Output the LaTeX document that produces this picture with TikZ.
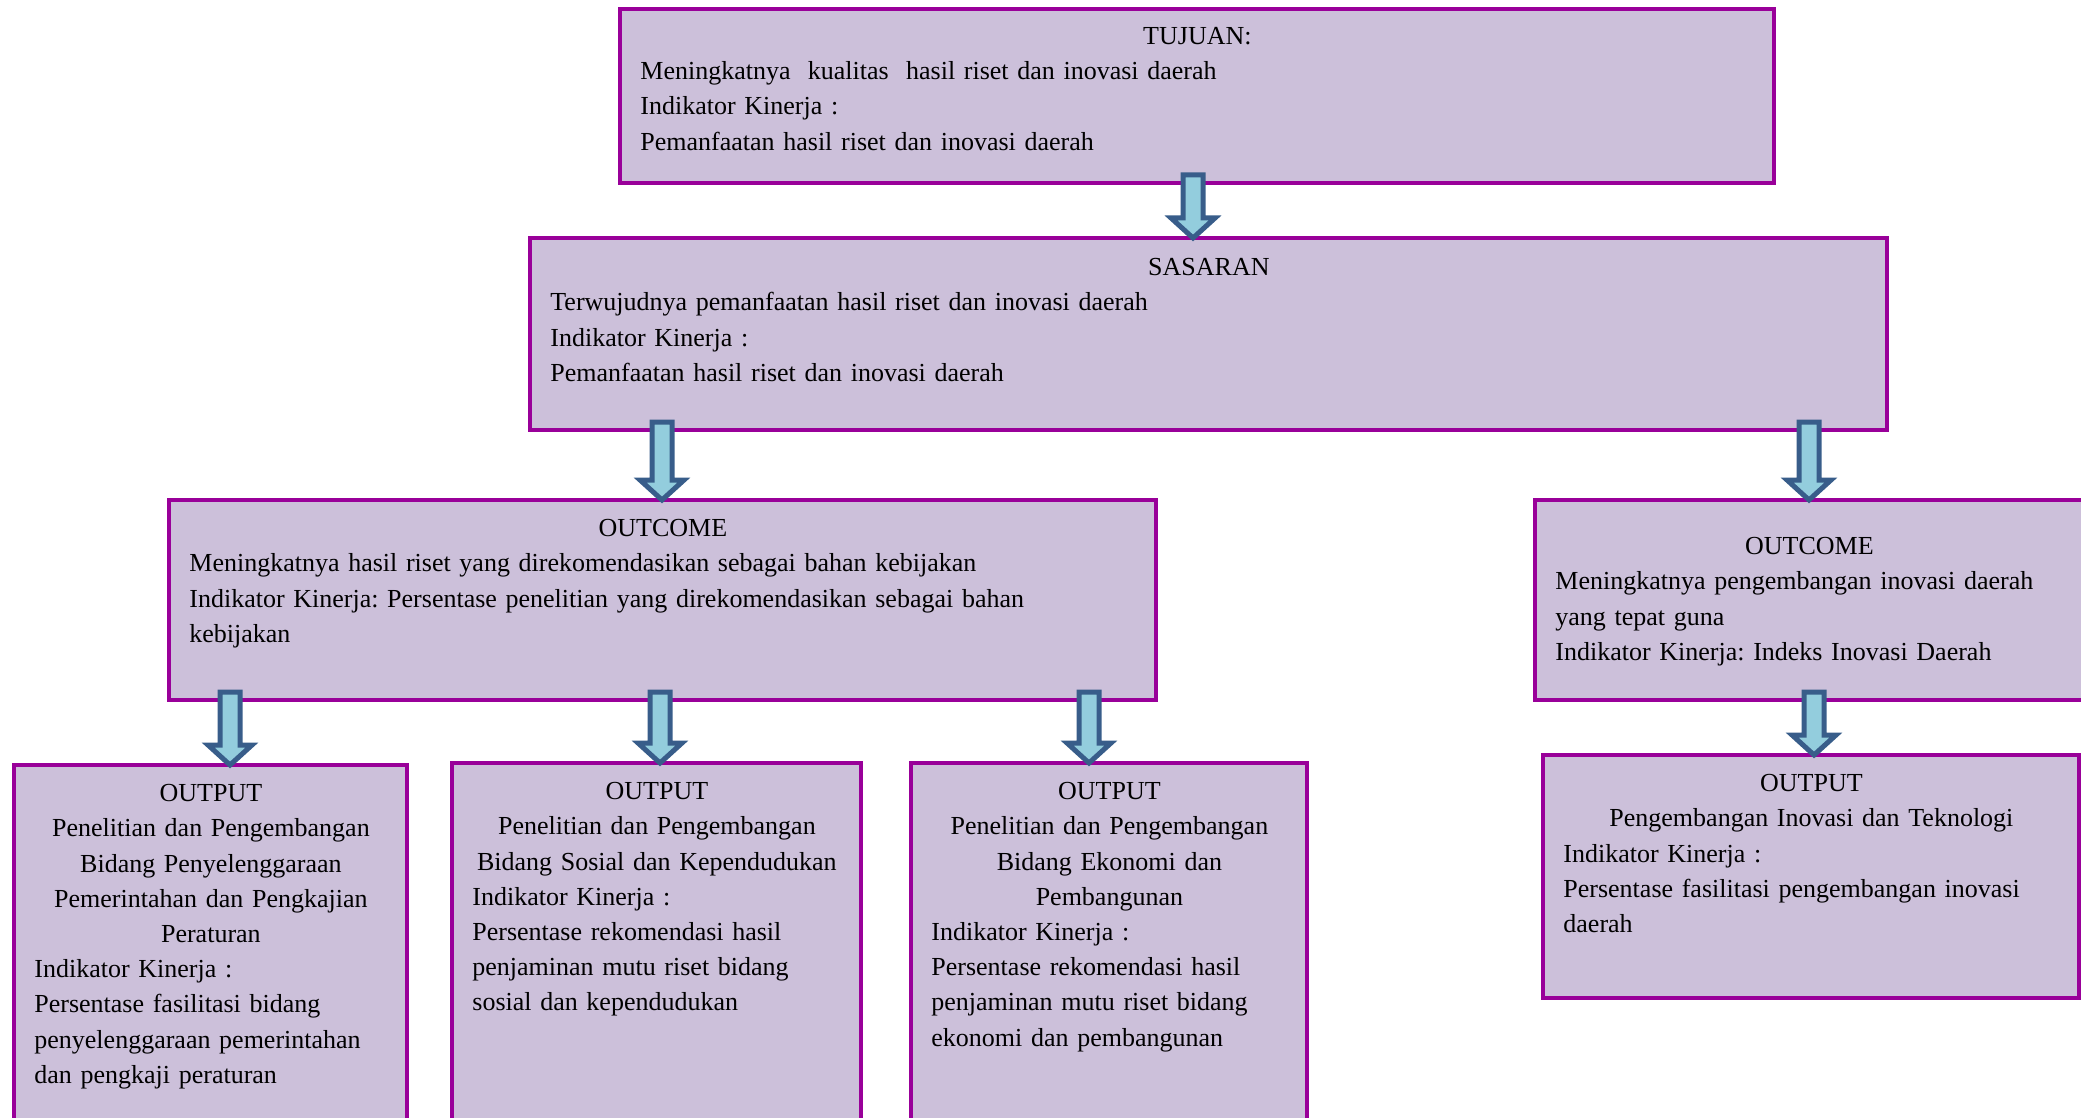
\documentclass[tikz,border=0pt]{standalone}
\usepackage{fontspec}
\setmainfont{Liberation Serif}
\usetikzlibrary{positioning,calc}
\definecolor{boxfill}{HTML}{CCC0DA}
\definecolor{boxline}{HTML}{990099}
\definecolor{arrfill}{HTML}{93CDDD}
\definecolor{arrline}{HTML}{385D8A}
\setlength{\parindent}{0pt}
\frenchspacing
\newcommand{\ctr}[1]{\makebox[\hsize][c]{#1}}
% block arrow: x position (px), upper node, lower node
\newcommand{\blkarr}[3]{%
  \draw[barr] let \p1=(#2.south), \p2=(#3.north) in
    (#1*0.5pt-5pt,\y1+4pt) -- (#1*0.5pt+5pt,\y1+4pt)
    -- (#1*0.5pt+5pt,\y2+10pt) -- (#1*0.5pt+11pt,\y2+10pt)
    -- (#1*0.5pt,\y2) -- (#1*0.5pt-11pt,\y2+10pt)
    -- (#1*0.5pt-5pt,\y2+10pt) -- cycle;}

\begin{document}
\begin{tikzpicture}[x=0.5pt,y=-0.5pt,
    box/.style={rectangle,draw=boxline,fill=boxfill,line width=2.3pt,inner sep=0pt,outer sep=0pt,anchor=north west},
    txt/.style={inner sep=0pt,anchor=north west,align=left,font=\fontsize{13}{17.6}\selectfont},
    barr/.style={draw=arrline,fill=arrfill,line width=2.5pt,line join=miter},
]
\useasboundingbox (0,0) rectangle (2081,1118);

% Row 1: Tujuan
\node[box,minimum width=577pt,minimum height=87pt] (tuj) at (620,9) {};
\node[txt,text width=557pt] (tujT) at ([shift={(20,18)}]tuj.north west)
  {\ctr{TUJUAN:}\\
   Meningkatnya\ \ kualitas\ \ hasil riset dan inovasi daerah\\
   Indikator Kinerja :\\
   Pemanfaatan hasil riset dan inovasi daerah};

% Row 2: Sasaran
\node[box,minimum width=678.5pt,minimum height=96pt] (sas) at (530,238) {};
\node[txt,text width=658.5pt] (sasT) at ([shift={(20,20)}]sas.north west)
  {\ctr{SASARAN}\\
   Terwujudnya pemanfaatan hasil riset dan inovasi daerah\\
   Indikator Kinerja :\\
   Pemanfaatan hasil riset dan inovasi daerah};

% Row 3: Outcome
\node[box,minimum width=493.5pt,minimum height=100pt] (ocL) at (169,500) {};
\node[txt,text width=473.5pt] (ocLT) at ([shift={(20,19)}]ocL.north west)
  {\ctr{OUTCOME}\\
   Meningkatnya hasil riset yang direkomendasikan sebagai bahan kebijakan\\
   Indikator Kinerja: Persentase penelitian yang direkomendasikan sebagai bahan\\
   kebijakan};
\node[box,minimum width=280pt,minimum height=100pt] (ocR) at (1535,500) {};
\node[txt,text width=254pt] (ocRT) at ([shift={(20,37)}]ocR.north west)
  {\ctr{OUTCOME}\\
   Meningkatnya pengembangan inovasi daerah\\
   yang tepat guna\\
   Indikator Kinerja: Indeks Inovasi Daerah};

% Row 4: Output
\node[box,minimum width=196.5pt,minimum height=183pt] (op1) at (14,765) {};
\node[txt,text width=176.5pt] (op1T) at ([shift={(20,19)}]op1.north west)
  {\ctr{OUTPUT}\\
   \ctr{Penelitian dan Pengembangan}\\
   \ctr{Bidang Penyelenggaraan}\\
   \ctr{Pemerintahan dan Pengkajian}\\
   \ctr{Peraturan}\\
   Indikator Kinerja :\\
   Persentase fasilitasi bidang\\
   penyelenggaraan pemerintahan\\
   dan pengkaji peraturan};
\node[box,minimum width=204.5pt,minimum height=184pt] (op2) at (452,763) {};
\node[txt,text width=184.5pt] (op2T) at ([shift={(20,19)}]op2.north west)
  {\ctr{OUTPUT}\\
   \ctr{Penelitian dan Pengembangan}\\
   \ctr{Bidang Sosial dan Kependudukan}\\
   Indikator Kinerja :\\
   Persentase rekomendasi hasil\\
   penjaminan mutu riset bidang\\
   sosial dan kependudukan};
\node[box,minimum width=198pt,minimum height=184pt] (op3) at (911,763) {};
\node[txt,text width=178pt] (op3T) at ([shift={(20,19)}]op3.north west)
  {\ctr{OUTPUT}\\
   \ctr{Penelitian dan Pengembangan}\\
   \ctr{Bidang Ekonomi dan}\\
   \ctr{Pembangunan}\\
   Indikator Kinerja :\\
   Persentase rekomendasi hasil\\
   penjaminan mutu riset bidang\\
   ekonomi dan pembangunan};
\node[box,minimum width=268pt,minimum height=121.5pt] (op4) at (1543,755) {};
\node[txt,text width=248pt] (op4T) at ([shift={(20,19)}]op4.north west)
  {\ctr{OUTPUT}\\
   \ctr{Pengembangan Inovasi dan Teknologi}\\
   Indikator Kinerja :\\
   Persentase fasilitasi pengembangan inovasi\\
   daerah};

% Arrows
\blkarr{1193}{tuj}{sas}
\blkarr{662}{sas}{ocL}
\blkarr{1809}{sas}{ocR}
\blkarr{230}{ocL}{op1}
\blkarr{660}{ocL}{op2}
\blkarr{1089}{ocL}{op3}
\blkarr{1814}{ocR}{op4}
\end{tikzpicture}
\end{document}
